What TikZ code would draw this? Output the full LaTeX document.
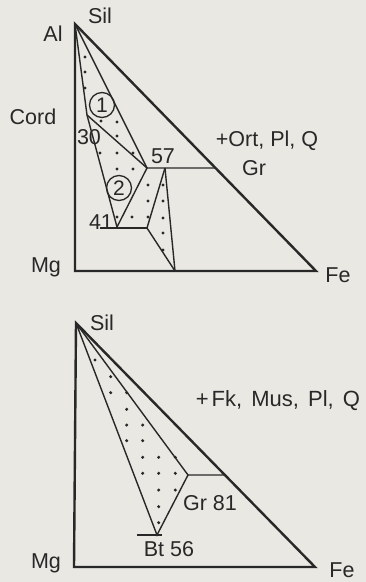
\documentclass[tikz,border=0pt]{standalone}
\usepackage{fontspec}
\setmainfont{Liberation Sans}
\usetikzlibrary{calc}
\definecolor{bgc}{RGB}{234,232,227}
\definecolor{linec}{RGB}{40,40,40}
\definecolor{textc}{RGB}{40,40,40}
\begin{document}
\begin{tikzpicture}[x=1pt,y=-1pt,
  outer/.style={draw=linec,line width=2.4pt,line join=miter},
  inner/.style={draw=linec,line width=1.4pt},
  lbl/.style={text=textc,inner sep=0pt,font=\fontsize{21.5}{21.5}\selectfont},
  circnum/.style={draw=linec,line width=1.3pt,circle,minimum size=25pt,inner sep=0pt,text=textc,font=\fontsize{21}{21}\selectfont},
  dotc/.style={fill=linec}]
\fill[bgc] (0,0) rectangle (366,582);
\useasboundingbox (0,0) rectangle (366,582);

% ---------- top diagram ----------
\coordinate (A) at (75,24);
\coordinate (Mg1) at (75,271);
\coordinate (Fe1) at (316,271);
\coordinate (P30) at (87,115);
\coordinate (P41) at (117,227);
\coordinate (P57) at (147,168);
\coordinate (Q) at (165,168);
\coordinate (H1) at ($(A)!0.583!(Fe1)$);
\coordinate (R) at (147,228);
\coordinate (L41) at (100,228);
\coordinate (B) at (175,271);

% dots top
\foreach \p in {(85,57),(85,72),(85,88),(101,121),(117,122),(117,136),
  (100,153),(117,153),(133,153),(117,169),(133,169),(148,185),(163,185),
  (148,201),(163,201),(117,217),(132,217),(148,217),(163,218),(163,233),(163,250)}
  \fill[dotc] \p circle[radius=1.7pt];

\draw[inner] (A) -- (P30) -- (P41);
\draw[inner] (A) -- (P57);
\draw[inner] (P30) -- (P57) -- (P41);
\draw[inner] (P57) -- (H1);
\draw[inner] (L41) -- (R);
\draw[inner] (Q) -- (R) -- (B);
\draw[inner] (Q) -- (B);
\draw[outer] (A) -- (Mg1) -- (Fe1) -- cycle;

\node[circnum] (c1) at (102,105) {1};
\node[circnum] (c2) at (119,188) {2};

\node[lbl] (sil1) at (100,16) {Sil};
\node[lbl] (al) at (53,34) {Al};
\node[lbl] (cord) at (33,117) {Cord};
\node[lbl] (n30) at (89,137) {30};
\node[lbl] (n57) at (163,156) {57};
\node[lbl] (n41) at (101,222) {41};
\node[lbl] (ort) at (267,141) {+Ort, Pl, Q};
\node[lbl] (gr1) at (254,168) {Gr};
\node[lbl] (mg1) at (46,267) {Mg};
\node[lbl] (fe1) at (338,275) {Fe};

% ---------- bottom diagram ----------
\coordinate (S) at (76,323);
\coordinate (Mg2) at (74,567);
\coordinate (Fe2) at (315,567);
\coordinate (Bt) at (157,535);
\coordinate (G) at (188,475);
\coordinate (H2) at ($(S)!0.623!(Fe2)$);
\coordinate (LBt) at (137,535);
\coordinate (RBt) at (162,535);

\foreach \p in {(95,360),(110.7,376.7),(110.7,392.7),(126.7,392.7),(126.7,409.3),
  (126.7,425),(142.7,425),(126.7,440.7),(142.7,440.7),
  (142.7,457.3),(158.7,457.3),(175.3,457.3),
  (142.7,473.3),(158.7,473.3),(175.3,473.3),
  (158.7,490),(175.3,490),(158.7,506.7),(158.7,522.7)}
  \fill[dotc] \p circle[radius=1.7pt];

\draw[inner] (S) -- (Bt) -- (G) -- (S);
\draw[inner] (G) -- (H2);
\draw[inner] (LBt) -- (RBt);
\draw[outer] (S) -- (Mg2) -- (Fe2) -- cycle;

\node[lbl] (sil2) at (102,323) {Sil};
\node[lbl,font=\fontsize{22}{22}\selectfont] (fk) at (278,401) {+\hspace{3pt}Fk,\hspace{3pt} Mus,\hspace{3pt} Pl,\hspace{3pt} Q};
\node[lbl] (gr2) at (210,503) {Gr 81};
\node[lbl] (bt2) at (169,549) {Bt 56};
\node[lbl] (mg2) at (46,563) {Mg};
\node[lbl] (fe2) at (342,570) {Fe};
\end{tikzpicture}
\end{document}
